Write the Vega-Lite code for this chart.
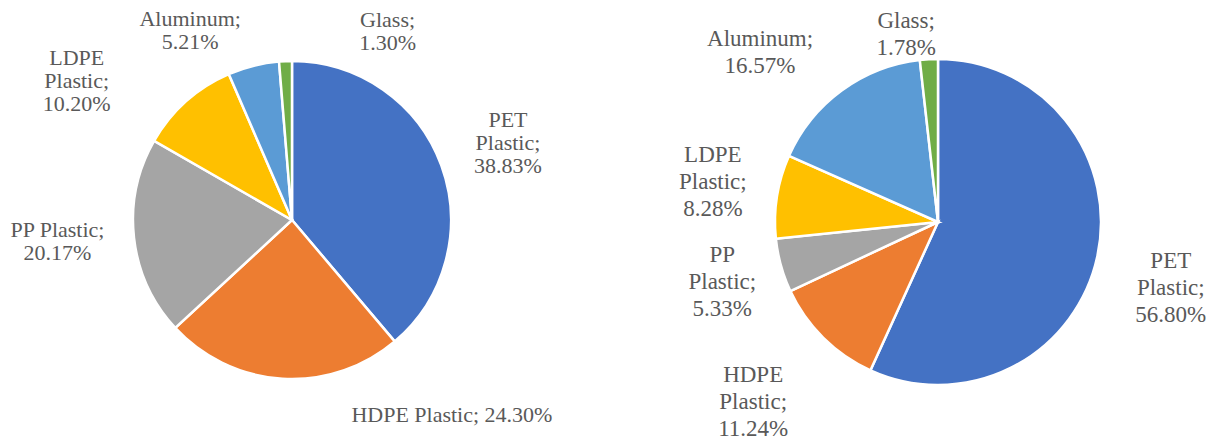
{
  "$schema": "https://vega.github.io/schema/vega-lite/v6.json",
  "padding": 0,
  "background": "white",
  "spacing": 79,
  "bounds": "flush",
  "config": {"view": {"stroke": null}},
  "hconcat": [
    {
      "width": 584,
      "height": 440,
      "data": {"values": [
        {"idx": 1, "material": "PET Plastic", "share": 38.83, "label": "PET\nPlastic;\n38.83%"},
        {"idx": 2, "material": "HDPE Plastic", "share": 24.30, "label": "HDPE Plastic; 24.30%"},
        {"idx": 3, "material": "PP Plastic", "share": 20.17, "label": "PP Plastic;\n20.17%"},
        {"idx": 4, "material": "LDPE Plastic", "share": 10.20, "label": "LDPE\nPlastic;\n10.20%"},
        {"idx": 5, "material": "Aluminum", "share": 5.21, "label": "Aluminum;\n5.21%"},
        {"idx": 6, "material": "Glass", "share": 1.30, "label": "Glass;\n1.30%"}
      ]},
      "encoding": {
        "theta": {"field": "share", "type": "quantitative", "stack": true},
        "order": {"field": "idx", "type": "quantitative"}
      },
      "layer": [
        {
          "mark": {"type": "arc", "outerRadius": 159, "stroke": "white", "strokeWidth": 2.5},
          "encoding": {
            "color": {"field": "material", "type": "nominal", "legend": null,
              "scale": {"domain": ["PET Plastic", "HDPE Plastic", "PP Plastic", "LDPE Plastic", "Aluminum", "Glass"],
                        "range": ["#4472C4", "#ED7D31", "#A5A5A5", "#FFC000", "#5B9BD5", "#70AD47"]}}
          }
        },
        {
          "mark": {"type": "text", "radius": 230, "font": "Liberation Serif", "fontSize": 22, "lineHeight": 23,
            "lineBreak": "\n", "align": "center", "baseline": "middle", "color": "#595959",
            "dx": {"expr": "datum.material === 'HDPE Plastic' ? 174 : datum.material === 'LDPE Plastic' ? -62 : datum.material === 'Aluminum' ? -46 : datum.material === 'Glass' ? 105 : datum.material === 'PP Plastic' ? -6 : 0"},
            "dy": {"expr": "datum.material === 'HDPE Plastic' ? -35 : datum.material === 'LDPE Plastic' ? 9 : datum.material === 'Aluminum' ? 22.5 : datum.material === 'Glass' ? 29.5 : datum.material === 'PP Plastic' ? -15.5 : -21"}},
          "encoding": {"text": {"field": "label", "type": "nominal"}}
        }
      ]
    },
    {
      "width": 550,
      "height": 444,
      "data": {"values": [
        {"idx": 1, "material": "PET Plastic", "share": 56.80, "label": "PET\nPlastic;\n56.80%"},
        {"idx": 2, "material": "HDPE Plastic", "share": 11.24, "label": "HDPE\nPlastic;\n11.24%"},
        {"idx": 3, "material": "PP Plastic", "share": 5.33, "label": "PP\nPlastic;\n5.33%"},
        {"idx": 4, "material": "LDPE Plastic", "share": 8.28, "label": "LDPE\nPlastic;\n8.28%"},
        {"idx": 5, "material": "Aluminum", "share": 16.57, "label": "Aluminum;\n16.57%"},
        {"idx": 6, "material": "Glass", "share": 1.78, "label": "Glass;\n1.78%"}
      ]},
      "encoding": {
        "theta": {"field": "share", "type": "quantitative", "stack": true},
        "order": {"field": "idx", "type": "quantitative"}
      },
      "layer": [
        {
          "mark": {"type": "arc", "outerRadius": 163, "stroke": "white", "strokeWidth": 2.5},
          "encoding": {
            "color": {"field": "material", "type": "nominal", "legend": null,
              "scale": {"domain": ["PET Plastic", "HDPE Plastic", "PP Plastic", "LDPE Plastic", "Aluminum", "Glass"],
                        "range": ["#4472C4", "#ED7D31", "#A5A5A5", "#FFC000", "#5B9BD5", "#70AD47"]}}
          }
        },
        {
          "mark": {"type": "text", "radius": 230, "font": "Liberation Serif", "fontSize": 23, "lineHeight": 27,
            "lineBreak": "\n", "align": "center", "baseline": "middle", "color": "#595959",
            "dx": {"expr": "datum.material === 'HDPE Plastic' ? -23 : datum.material === 'LDPE Plastic' ? 2 : datum.material === 'Aluminum' ? -42 : datum.material === 'Glass' ? -19 : datum.material === 'PP Plastic' ? 6 : 8"},
            "dy": {"expr": "datum.material === 'HDPE Plastic' ? -10 : datum.material === 'LDPE Plastic' ? -31 : datum.material === 'Aluminum' ? 2.5 : datum.material === 'Glass' ? 28.5 : datum.material === 'PP Plastic' ? -28 : -10"}},
          "encoding": {"text": {"field": "label", "type": "nominal"}}
        }
      ]
    }
  ]
}
